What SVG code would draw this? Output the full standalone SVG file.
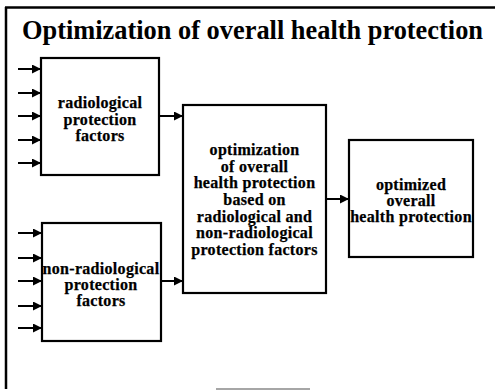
<svg xmlns="http://www.w3.org/2000/svg" width="495" height="390" viewBox="0 0 495 390">
  <style>
    .frame { stroke: #000; stroke-width: 2.5; fill: none; }
    .box { fill: #fff; stroke: #000; stroke-width: 2.2; }
    .wire { stroke: #000; stroke-width: 2; fill: none; marker-end: url(#tip); }
    .title { font-family: "Liberation Serif", "Times New Roman", serif; font-weight: bold; font-size: 27px; fill: #000; }
    .lbl { font-family: "Liberation Serif", "Times New Roman", serif; font-weight: bold; font-size: 16px; letter-spacing: 0.3px; fill: #000; stroke: #000; stroke-width: 0.25; text-anchor: middle; }
  </style>
  <defs>
    <marker id="tip" markerUnits="userSpaceOnUse" markerWidth="10" markerHeight="10" refX="9" refY="4.5" orient="auto">
      <path d="M0,0 L9,4.5 L0,9 Z" fill="#000"/>
    </marker>
  </defs>

  <rect width="495" height="390" fill="#fff"/>

  <!-- page frame -->
  <g id="frame">
    <line class="frame" x1="5" y1="7.5" x2="495" y2="7.5"/>
    <line class="frame" x1="6" y1="7" x2="6" y2="389"/>
    <line x1="216" y1="389" x2="310" y2="389" stroke="#888" stroke-width="1.5"/>
  </g>

  <text class="title" x="22" y="39" textLength="461" lengthAdjust="spacingAndGlyphs">Optimization of overall health protection</text>

  <!-- connectors -->
  <g id="connectors">
    <line class="wire" x1="18" y1="69" x2="41" y2="69"/>
    <line class="wire" x1="18" y1="93" x2="41" y2="93"/>
    <line class="wire" x1="18" y1="116" x2="41" y2="116"/>
    <line class="wire" x1="18" y1="140" x2="41" y2="140"/>
    <line class="wire" x1="18" y1="163" x2="41" y2="163"/>

    <line class="wire" x1="18" y1="233" x2="42" y2="233"/>
    <line class="wire" x1="18" y1="258" x2="42" y2="258"/>
    <line class="wire" x1="18" y1="281" x2="42" y2="281"/>
    <line class="wire" x1="18" y1="306" x2="42" y2="306"/>
    <line class="wire" x1="18" y1="328" x2="42" y2="328"/>

    <line class="wire" x1="159" y1="116" x2="183" y2="116"/>
    <line class="wire" x1="161" y1="281" x2="183" y2="281"/>
    <line class="wire" x1="326" y1="199" x2="349" y2="199"/>
  </g>

  <g id="radiological">
    <rect class="box" x="41" y="58" width="118" height="117"/>
    <text class="lbl" x="100" y="108">radiological</text>
    <text class="lbl" x="100" y="125">protection</text>
    <text class="lbl" x="100" y="141">factors</text>
  </g>

  <g id="non-radiological">
    <rect class="box" x="42" y="223" width="119" height="118"/>
    <text class="lbl" x="101" y="274">non-radiological</text>
    <text class="lbl" x="101" y="290">protection</text>
    <text class="lbl" x="101" y="306">factors</text>
  </g>

  <g id="optimization">
    <rect class="box" x="183" y="105" width="143" height="188"/>
    <text class="lbl" x="254.5" y="155">optimization</text>
    <text class="lbl" x="254.5" y="171.5">of overall</text>
    <text class="lbl" x="254.5" y="188">health protection</text>
    <text class="lbl" x="254.5" y="205">based on</text>
    <text class="lbl" x="254.5" y="221.5">radiological and</text>
    <text class="lbl" x="254.5" y="238">non-radiological</text>
    <text class="lbl" x="254.5" y="255">protection factors</text>
  </g>

  <g id="optimized">
    <rect class="box" x="349" y="140" width="124" height="117"/>
    <text class="lbl" x="411" y="190">optimized</text>
    <text class="lbl" x="411" y="206">overall</text>
    <text class="lbl" x="411" y="222">health protection</text>
  </g>
</svg>
